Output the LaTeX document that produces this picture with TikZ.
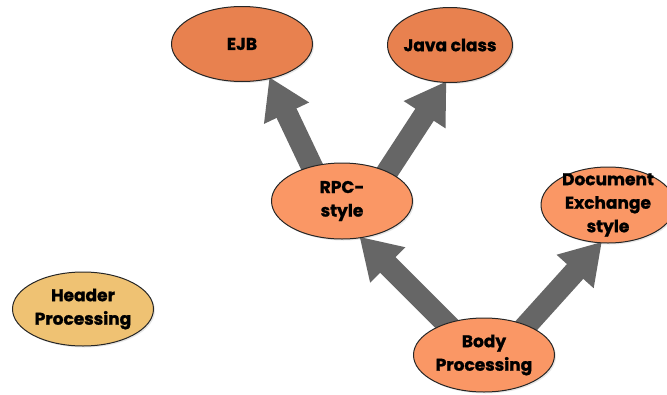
\documentclass[tikz,border=0pt]{standalone}
\usepackage{fontspec}
\setmainfont{Poppins}[BoldFeatures={FakeBold=1.2}]
\usetikzlibrary{arrows.meta,shapes.geometric,shadows,backgrounds}
\definecolor{deeporange}{HTML}{E8814F}
\definecolor{softorange}{HTML}{FA9765}
\definecolor{tan}{HTML}{EFC273}
\definecolor{arrowgray}{HTML}{666666}
\begin{document}
\begin{tikzpicture}[x=1pt,y=-1pt,
  blob/.style={ellipse, draw=black!85, line width=1pt, inner sep=0pt,
    minimum width=141pt, minimum height=75pt,
    drop shadow={opacity=0.2,shadow xshift=1.5pt,shadow yshift=-1.5pt}},
  caption/.style={align=center, inner sep=0pt,
    font=\bfseries\fontsize{17}{23.5}\selectfont, text=black},
  bigarrow/.style={draw=arrowgray, line width=22pt,
    -{Triangle[width=47pt,length=40pt]},
    shorten <=-8pt, shorten >=-2pt}]
  \useasboundingbox (0,0) rectangle (667,394);

  % nodes
  \node[blob, fill=deeporange, label={[caption]center:EJB}] (ejb) at (242,44) {};
  \node[blob, fill=deeporange, minimum width=125pt,
        label={[caption]center:Java class}] (java) at (450,45) {};
  \node[blob, fill=softorange, minimum height=76pt,
        label={[caption]center:RPC-\\style}] (rpc) at (342,201) {};
  \node[blob, fill=softorange, minimum width=134pt, minimum height=76pt,
        label={[caption]center:Document\\Exchange\\style}] (doc) at (608,205) {};
  \node[blob, fill=tan, minimum height=74pt,
        label={[caption]center:Header\\Processing}] (header) at (83,309) {};
  \node[blob, fill=softorange, minimum height=74pt,
        label={[caption]center:Body\\Processing}] (body) at (484,355) {};

  % connectors, drawn beneath the nodes
  \begin{scope}[on background layer]
    \draw[bigarrow] (rpc.131) -- (ejb.-51);
    \draw[bigarrow] (rpc.33) -- (java.-97);
    \draw[bigarrow] (body.140) -- (rpc.-63);
    \draw[bigarrow] (body.35) -- (doc.-101);
  \end{scope}
\end{tikzpicture}
\end{document}
